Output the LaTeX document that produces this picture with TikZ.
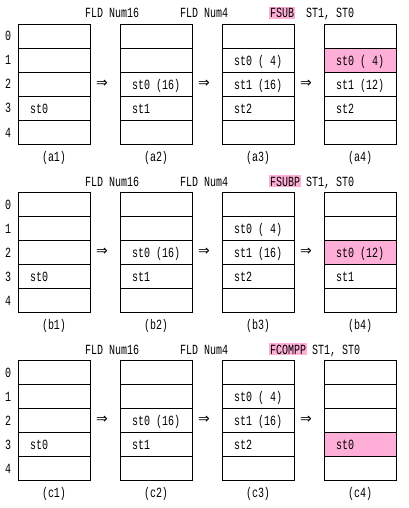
\documentclass[tikz,border=0pt]{standalone}
\usepackage{fontspec}
\setmonofont[FakeStretch=0.714]{Liberation Mono}
\newfontfamily\arrowfont{DejaVu Sans}
\usetikzlibrary{backgrounds}
\definecolor{hlpink}{RGB}{255,175,215}
\newcommand\mytt{\ttfamily\fontsize{14}{14}\selectfont}
\newcommand\cellt[2]{\node[txt, xshift=12pt, yshift=-5pt] (#1t) at (#1.west) {#2};}
\begin{document}
\begin{tikzpicture}[x=1pt,y=-1pt,
  cell/.style={draw, line width=1pt, minimum width=72pt, minimum height=24pt, inner sep=0pt, anchor=north west},
  txt/.style={font=\mytt, inner sep=0pt, anchor=base west},
  ctxt/.style={font=\mytt, inner sep=0pt, anchor=base},
  instr/.style={font=\mytt, fill=hlpink, inner xsep=1pt, inner ysep=0pt, text height=11pt, text depth=1pt, anchor=base west},
  arr/.style={font=\arrowfont\fontsize{14}{14}\selectfont, inner sep=0pt}]
\useasboundingbox (0,0) rectangle (409,508);
\foreach \sec/\s in {a/0,b/168,c/336} {
  \foreach \b/\x in {1/18,2/120,3/222,4/324} {
    \foreach \r in {0,...,4} {
      \node[cell] (\sec\b-\r) at (\x, 24+\s+24*\r) {};
    }
    \node[ctxt] (\sec\b-cap) at (\x+36, 161+\s) {(\sec\b)};
  }
  \foreach \r in {0,...,4} {\node[ctxt] (\sec-n\r) at (8, 41+\s+24*\r) {\r};}
  \node[txt] (\sec-fld16) at (85, 18+\s) {FLD Num16};
  \node[txt] (\sec-fld4) at (180, 18+\s) {FLD Num4};
  \foreach \g/\x in {1/102,2/204,3/306} {\node[arr] (\sec-arr\g) at (\x, 84+\s) {⇒};}
  % common contents of boxes 1-3
  \cellt{\sec1-3}{st0}
  \cellt{\sec2-2}{st0 (16)}
  \cellt{\sec2-3}{st1}
  \cellt{\sec3-1}{st0 ( 4)}
  \cellt{\sec3-2}{st1 (16)}
  \cellt{\sec3-3}{st2}
}
% instructions
\node[instr] (a-ins) at (269, 18) {FSUB};
\node[txt] (a-ops) at (306, 18) {ST1, ST0};
\node[instr] (b-ins) at (269, 186) {FSUBP};
\node[txt] (b-ops) at (306, 186) {ST1, ST0};
\node[instr] (c-ins) at (269, 354) {FCOMPP};
\node[txt] (c-ops) at (312, 354) {ST1, ST0};
% results
\cellt{a4-1}{st0 ( 4)}
\cellt{a4-2}{st1 (12)}
\cellt{a4-3}{st2}
\cellt{b4-2}{st0 (12)}
\cellt{b4-3}{st1}
\cellt{c4-3}{st0}
\begin{scope}[on background layer]
  \fill[hlpink] (a4-1.north west) rectangle (a4-1.south east);
  \fill[hlpink] (b4-2.north west) rectangle (b4-2.south east);
  \fill[hlpink] (c4-3.north west) rectangle (c4-3.south east);
\end{scope}
\end{tikzpicture}
\end{document}
